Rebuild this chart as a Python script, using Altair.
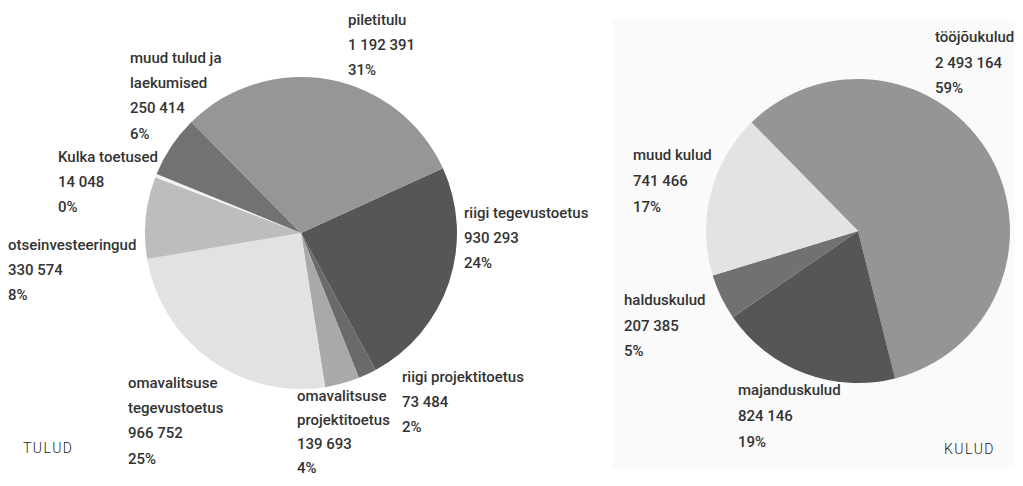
import math
import altair as alt
import pandas as pd

# ---------------- data ----------------
tulud_names = ["riigi tegevustoetus", "riigi projektitoetus", "omavalitsuse\nprojektitoetus",
               "omavalitsuse\ntegevustoetus", "otseinvesteeringud", "Kulka toetused",
               "muud tulud ja\nlaekumised", "piletitulu"]
tulud_values = [930293, 73484, 139693, 966752, 330574, 14048, 250414, 1192391]
tulud_pct = ["24%", "2%", "4%", "25%", "8%", "0%", "6%", "31%"]

kulud_names = ["tööjõukulud", "majanduskulud", "halduskulud", "muud kulud"]
kulud_values = [2493164, 824146, 207385, 741466]
kulud_pct = ["59%", "19%", "5%", "17%"]

panel_titles = ["TULUD", "KULUD"]

# ---------------- styling / layout ----------------
tulud_colors = ["#565656", "#6a6a6a", "#a9a9a9", "#e2e2e2", "#bdbdbd", "#f2f2f2", "#727272", "#969696"]
kulud_colors = ["#959595", "#565656", "#717171", "#e3e3e3"]

M = 8  # page margin
W, H = 1007, 470
L_CX, L_CY, L_R = 301 - M, 233 - M, 156
R_CX, R_CY, R_R = 858 - M, 231 - M, 152
L_START = math.radians(65.5)
R_START = math.radians(-44.5)

# label block anchors (left x, centre of first line, line step) in page pixels
tulud_lab_pos = [(464, 213, 25.2), (402, 377, 25.2), (297, 396, 24.0), (128, 383, 25.2),
                 (8, 245, 25.2), (58, 157, 25.2), (130, 58, 25.2), (348, 20, 25.2)]
kulud_lab_pos = [(935, 37, 25.5), (738, 390, 26.2), (624, 300, 25.5), (633, 155, 26)]
title_pos = [(23, 449), (944, 450)]
FONT = "Roboto, DejaVu Sans Condensed, sans-serif"
TXT = "#333333"


def fmt(v):
    return f"{v:,}".replace(",", " ")


def pie_df(names, values, colors):
    return pd.DataFrame({"name": names, "value": values, "color": colors,
                         "idx": list(range(len(names)))})


def label_df(names, values, pct, pos):
    rows = []
    for n, v, p, (x, y, lh) in zip(names, values, pct, pos):
        lines = n.split("\n") + [fmt(v), p]
        for i, t in enumerate(lines):
            rows.append({"t": t, "x": x - M, "y": y - M + i * lh})
    return pd.DataFrame(rows)


def pie(df, cx, cy, r, start):
    return alt.Chart(df).mark_arc(radius=r).encode(
        theta=alt.Theta("value:Q", stack=True,
                        scale=alt.Scale(range=[start, start + 2 * math.pi])),
        order=alt.Order("idx:Q"),
        color=alt.Color("color:N", scale=None),
        x=alt.value(cx), y=alt.value(cy),
    )


def labels(df):
    return alt.Chart(df).mark_text(align="left", baseline="middle", font=FONT,
                                   fontSize=15, fontWeight=500, color=TXT).encode(
        x=alt.X("x:Q", scale=None, axis=None),
        y=alt.Y("y:Q", scale=None, axis=None),
        text="t:N",
    )


bg = alt.Chart(pd.DataFrame({"a": [0]})).mark_rect(color="#fafafa").encode(
    x=alt.value(613 - M), x2=alt.value(W), y=alt.value(20 - M), y2=alt.value(468 - M))

titles_df = pd.DataFrame({"t": ["\u200a".join(list(s)) for s in panel_titles],
                          "x": [p[0] - M for p in title_pos], "y": [p[1] - M for p in title_pos]})
titles = alt.Chart(titles_df).mark_text(align="left", baseline="middle", font=FONT,
                                        fontSize=14, fontWeight=300, color="#1a1a1a").encode(
    x=alt.X("x:Q", scale=None, axis=None),
    y=alt.Y("y:Q", scale=None, axis=None),
    text="t:N",
)

chart = alt.layer(
    bg,
    pie(pie_df(tulud_names, tulud_values, tulud_colors), L_CX, L_CY, L_R, L_START),
    pie(pie_df(kulud_names, kulud_values, kulud_colors), R_CX, R_CY, R_R, R_START),
    labels(label_df(tulud_names, tulud_values, tulud_pct, tulud_lab_pos)),
    labels(label_df(kulud_names, kulud_values, kulud_pct, kulud_lab_pos)),
    titles,
).resolve_scale(theta="independent").properties(
    width=W, height=H, padding=0, autosize=alt.AutoSizeParams(type="none"),
    background="white",
).configure_view(stroke=None)

chart.save("out.html", embed_options={"renderer": "svg", "actions": False})
